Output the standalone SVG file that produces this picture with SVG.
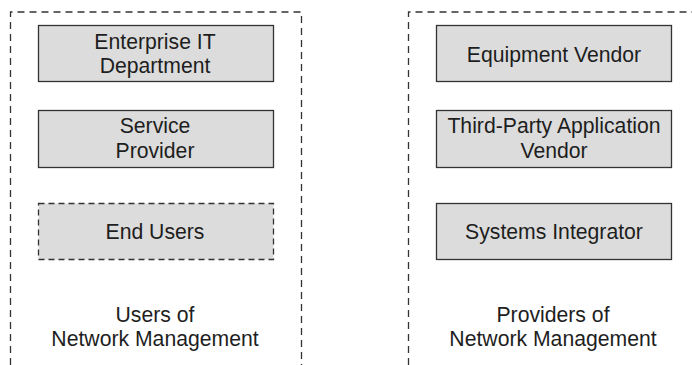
<svg xmlns="http://www.w3.org/2000/svg" width="692" height="365" viewBox="0 0 692 365">
<style>
.cont{fill:none;stroke:#333;stroke-width:1.3;stroke-dasharray:7 5}
.box{fill:#dcdcdc;stroke:#333;stroke-width:1.3}
.dbox{fill:#dcdcdc;stroke:#333;stroke-width:1.3;stroke-dasharray:6 4}
text{font-family:"Liberation Sans",Arial,sans-serif;font-size:21.2px;fill:#1e1e1e;text-anchor:middle}
</style>
<rect width="692" height="365" fill="#fff"/>
<g id="users-container">
<path class="cont" d="M10.5,365 V12 H301.5 V365"/>
<text x="155" y="322">Users of</text>
<text x="155" y="346">Network Management</text>
</g>
<g id="providers-container">
<path class="cont" d="M408.5,365 V12 H692"/>
<text x="553" y="322">Providers of</text>
<text x="553" y="346">Network Management</text>
</g>
<g id="enterprise-it">
<rect class="box" x="38.5" y="25.5" width="235" height="56"/>
<text x="155" y="48.5">Enterprise IT</text>
<text x="155" y="72.5">Department</text>
</g>
<g id="service-provider">
<rect class="box" x="38.5" y="110.5" width="235" height="57"/>
<text x="155" y="133">Service</text>
<text x="155" y="158">Provider</text>
</g>
<g id="end-users">
<rect class="dbox" x="38.5" y="203.5" width="235" height="56"/>
<text x="155" y="239">End Users</text>
</g>
<g id="equipment-vendor">
<rect class="box" x="436.5" y="25.5" width="235" height="56"/>
<text x="554" y="61.5">Equipment Vendor</text>
</g>
<g id="third-party">
<rect class="box" x="436.5" y="110.5" width="235" height="57"/>
<text x="554" y="133">Third-Party Application</text>
<text x="554" y="158">Vendor</text>
</g>
<g id="systems-integrator">
<rect class="box" x="436.5" y="203.5" width="235" height="56"/>
<text x="554" y="239">Systems Integrator</text>
</g>
<g id="connectors"/>
</svg>
